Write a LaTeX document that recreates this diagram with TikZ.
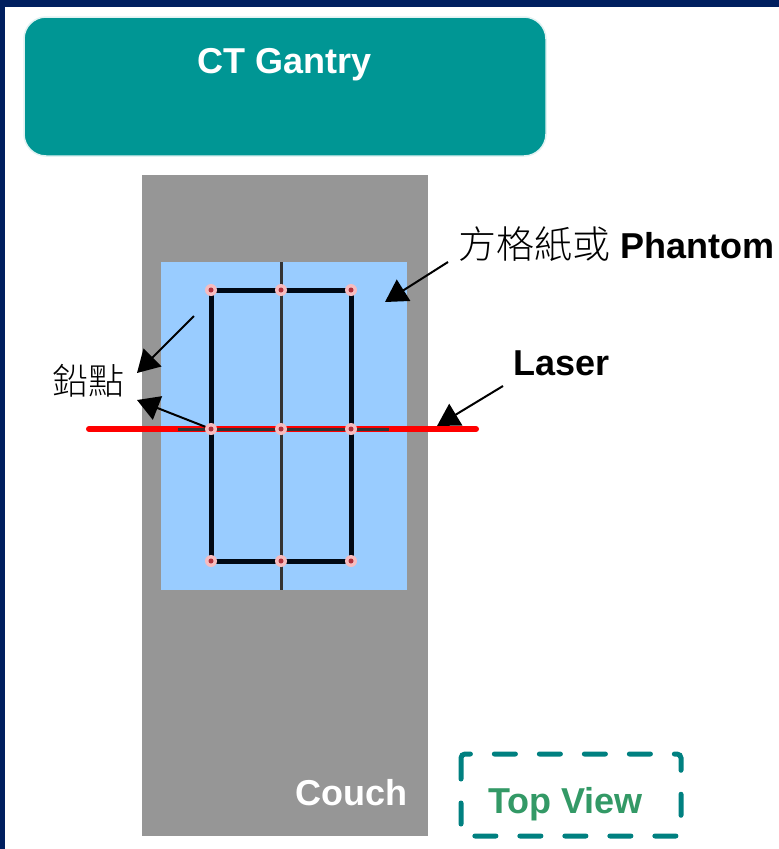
\documentclass[tikz,border=0pt]{standalone}
\usepackage{fontspec}
\setmainfont{Liberation Sans}
\newfontfamily\cjk{Noto Sans CJK TC}[UprightFont=* Light]
\usetikzlibrary{arrows.meta,positioning}
\definecolor{navyc}{HTML}{001F5F}
\definecolor{tealc}{HTML}{009694}
\definecolor{couchc}{HTML}{969696}
\definecolor{paperc}{HTML}{99CCFF}
\definecolor{gridc}{HTML}{000814}
\definecolor{midc}{HTML}{333333}
\definecolor{laserc}{HTML}{FF0000}
\definecolor{viewc}{HTML}{008080}
\definecolor{viewtxt}{HTML}{339966}
\definecolor{dotc}{HTML}{F6BCC0}
\definecolor{dotin}{HTML}{B0303C}
\tikzset{
  ptr/.style={-{Triangle[length=22pt,width=25pt]},line width=2pt,black},
  big/.style={inner sep=0pt,anchor=base west,font=\fontsize{36}{40}\selectfont},
  slab/.style={inner sep=0pt,outer sep=0pt,draw=none},
  pdot/.style={circle,fill=dotc,minimum size=12pt,inner sep=0pt,
    path picture={\fill[dotin] (path picture bounding box.center) circle (2.5pt);}}
}
\begin{document}
\begin{tikzpicture}[x=1pt,y=-1pt]
\useasboundingbox (0,0) rectangle (779,849);
\fill[navyc] (0,0) rectangle (779,849);
\fill[white] (5,7) rectangle (779,849);

% gantry, couch and the paper on it
\node[slab,fill=tealc,draw=tealc!12!white,line width=1.5pt,rounded corners=22pt,
  minimum width=522pt,minimum height=139pt] (gantry) at (285,86.5) {};
\node[big,anchor=base,text=white,font=\bfseries\fontsize{36}{40}\selectfont] (gtxt) at (285,73) {CT Gantry};
\node[slab,fill=couchc,minimum width=286pt,minimum height=661pt] (couch) at (285,505.5) {};
\node[slab,fill=paperc,minimum width=246pt,minimum height=328pt] (paper) at (284,426) {};

% laser line
\coordinate (lasL) at (89,429);
\coordinate (lasR) at (476,429);
\draw[laserc,line width=6pt,line cap=round] (lasL) -- (lasR);
\draw[midc,line width=3pt] (178,429) -- (389,429);
\draw[midc,line width=3pt] (paper.north -| 281,0) -- (paper.south -| 281,0);
\draw[gridc,line width=5pt] (211,290) rectangle (351,561);

% lead points
\foreach \c/\px in {1/211,2/281,3/351}{
  \node[pdot] (t\c) at (\px,290) {};
  \node[pdot] (m\c) at (\px,429) {};
  \node[pdot] (b\c) at (\px,561) {};
}

% labels
\node[big] (lblpaper) at (458,258) {{\cjk\fontsize{38}{40}\selectfont 方格紙或} \textbf{Phantom}};
\node[big] (lbllaser) at (513,375) {\textbf{Laser}};
\node[big] (lblpb) at (52,394) {\cjk 鉛點};
\node[big,text=white] (lblcouch) at (295,805) {\textbf{Couch}};
\node[big,text=viewtxt] (lblview) at (488,813) {\textbf{Top View}};
\draw[viewc,line width=5pt,line cap=round,dash pattern=on 21pt off 24pt,rounded corners=4pt]
  (461,754) rectangle (681,836);

% pointers
\coordinate (pA) at (448,262);
\coordinate (pB) at (194,316);
\coordinate (pC) at (503,386);
\draw[ptr] (pA) -- (385,302);
\draw[ptr] (pB) -- (137,373);
\draw[ptr] (m1) -- (137,400);
\draw[ptr] (pC) -- (437,426);
\end{tikzpicture}
\end{document}
